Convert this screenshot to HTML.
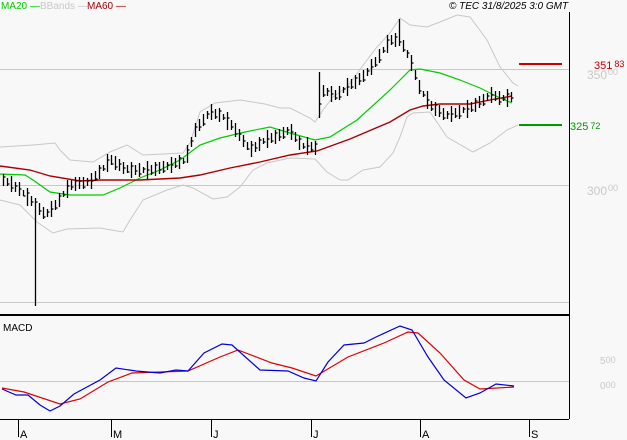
<!DOCTYPE html>
<html><head><meta charset="utf-8"><style>
html,body{margin:0;padding:0;background:#f8f8f8;}
svg{display:block;font-family:"Liberation Sans",sans-serif;}
</style></head><body>
<svg width="627" height="440" viewBox="0 0 627 440" xmlns="http://www.w3.org/2000/svg">
<rect width="627" height="440" fill="#f8f8f8"/>
<g stroke="#c8c8c8" stroke-width="1">
<line x1="0" y1="69.5" x2="569" y2="69.5"/>
<line x1="0" y1="185.5" x2="569" y2="185.5"/>
<line x1="0" y1="302.5" x2="569" y2="302.5"/>
<line x1="0" y1="381.5" x2="569" y2="381.5"/>
</g>
<g fill="none" stroke="#c8c8c8" stroke-width="1">
<polyline points="0,147 33,145 55,143 60,150 70,160 93,162 110,152 127,145 143,155 183,153 190,143 200,112 215,103 240,100 265,104 280,108 290,108 310,118 315,122 323,110 333,97 347,87 367,60 377,47 390,33 400,18 410,25 427,27 440,22 457,15 470,17 487,40 500,67 513,83 518,86"/>
<polyline points="0,200 20,205 37,222 53,233 67,229 100,228 123,232 130,220 143,200 167,190 183,185 193,188 213,199 227,197 240,187 253,170 267,163 290,158 315,159 327,172 340,180 348,180 363,170 380,167 393,153 400,137 407,117 413,113 430,112 447,137 473,152 490,143 507,130 518,125"/>
</g>
<polyline fill="none" stroke="#00cc00" stroke-width="1.2" points="0,174 25,175 33,180 50,192 70,195 103,195 120,188 140,178 160,170 180,160 200,145 220,138 245,132 270,127 290,133 315,140 330,137 357,120 390,90 400,80 410,70 420,69 440,73 460,80 480,88 500,98 512,103"/>
<polyline fill="none" stroke="#aa0000" stroke-width="1.4" points="0,166 30,170 50,176 80,181 100,180 140,180 180,178 200,175 230,168 260,162 290,155 317,151 350,139 390,122 410,110 423,106 440,104 470,104 490,100 512,96"/>
<path fill="none" stroke="#000" stroke-width="1.3" d="
M3.5 174V186M3.5 177h2 M7.5 178V186M7.5 184h2 M11.5 176V192M11.5 188h2 M15.5 182V192M15.5 186h2 M19.5 182V196M19.5 189h2 M23.5 190V196M23.5 196h2 M27.5 188V206M27.5 193h2 M31.5 196V206M31.5 202h2 M35.5 198V306M35.5 202h2 M39.5 203V215M39.5 211h2
M43.5 207V219M43.5 217h2 M47.5 209V217M47.5 212h2 M51.5 201V217M51.5 209h2 M55.5 200V210M55.5 208h2 M59.5 193V207M59.5 196h2 M63.5 191V197M63.5 195h2 M67.5 180V198M67.5 186h2 M71.5 180V190M71.5 187h2 M75.5 177V191M75.5 181h2 M79.5 177V189M79.5 181h2
M83.5 177V189M83.5 187h2 M87.5 178V186M87.5 181h2 M91.5 173V189M91.5 181h2 M95.5 171V181M95.5 179h2 M99.5 165V179M99.5 168h2 M103.5 165V171M103.5 169h2 M107.5 154V172M107.5 160h2 M111.5 155V165M111.5 164h2 M115.5 156V170M115.5 167h2 M119.5 159V171M119.5 164h2
M123.5 162V174M123.5 168h2 M127.5 165V173M127.5 172h2 M131.5 162V178M131.5 166h2 M135.5 165V175M135.5 171h2 M139.5 163V177M139.5 174h2 M143.5 167V173M143.5 169h2 M147.5 161V179M147.5 170h2 M151.5 165V175M151.5 173h2 M155.5 162V176M155.5 165h2 M159.5 162V174M159.5 170h2
M163.5 161V173M163.5 171h2 M167.5 162V170M167.5 165h2 M171.5 157V173M171.5 165h2 M175.5 158V168M175.5 166h2 M179.5 155V169M179.5 158h2 M183.5 158V164M183.5 162h2 M187.5 145V163M187.5 150h2 M191.5 137V147M191.5 141h2 M195.5 123V137M195.5 127h2 M199.5 119V131M199.5 127h2
M203.5 114V126M203.5 124h2 M207.5 111V119M207.5 114h2 M211.5 104V120M211.5 112h2 M215.5 109V119M215.5 117h2 M219.5 108V122M219.5 111h2 M223.5 114V120M223.5 118h2 M227.5 112V130M227.5 118h2 M231.5 120V130M231.5 127h2 M235.5 123V137M235.5 134h2 M239.5 129V141M239.5 134h2
M243.5 135V147M243.5 141h2 M247.5 142V150M247.5 149h2 M251.5 141V157M251.5 145h2 M255.5 142V152M255.5 148h2 M259.5 137V151M259.5 140h2 M263.5 138V144M263.5 142h2 M267.5 130V148M267.5 139h2 M271.5 133V143M271.5 141h2 M275.5 130V144M275.5 133h2 M279.5 129V141M279.5 137h2
M283.5 127V139M283.5 137h2 M287.5 127V135M287.5 130h2 M291.5 124V140M291.5 132h2 M295.5 132V142M295.5 140h2 M299.5 136V150M299.5 139h2 M303.5 143V149M303.5 147h2 M307.5 137V155M307.5 146h2 M311.5 142V152M311.5 150h2 M315.5 141V155M315.5 144h2 M319.5 72V118M319.5 104h2
M323.5 85V97M323.5 95h2 M327.5 88V96M327.5 91h2 M331.5 86V102M331.5 94h2 M335.5 90V100M335.5 98h2 M339.5 86V100M339.5 97h2 M343.5 87V93M343.5 89h2 M347.5 78V96M347.5 87h2 M351.5 79V89M351.5 87h2 M355.5 75V89M355.5 78h2 M359.5 73V85M359.5 81h2
M363.5 70V82M363.5 80h2 M367.5 68V76M367.5 71h2 M371.5 59V75M371.5 67h2 M375.5 57V67M375.5 65h2 M379.5 49V63M379.5 60h2 M383.5 47V53M383.5 51h2 M387.5 35V53M387.5 40h2 M391.5 35V45M391.5 43h2 M395.5 33V47M395.5 37h2 M399.5 19V46M399.5 42h2
M403.5 40V52M403.5 50h2 M407.5 50V58M407.5 53h2 M411.5 55V71M411.5 63h2 M415.5 70V80M415.5 78h2 M419.5 80V94M419.5 91h2 M423.5 91V97M423.5 95h2 M427.5 91V109M427.5 100h2 M431.5 101V111M431.5 109h2 M435.5 102V116M435.5 105h2 M439.5 105V117M439.5 113h2
M443.5 108V120M443.5 118h2 M447.5 111V119M447.5 114h2 M451.5 106V122M451.5 114h2 M455.5 108V118M455.5 116h2 M459.5 105V119M459.5 116h2 M463.5 107V113M463.5 109h2 M467.5 100V118M467.5 109h2 M471.5 102V112M471.5 110h2 M475.5 98V112M475.5 101h2 M479.5 96V108M479.5 104h2
M483.5 94V106M483.5 104h2 M487.5 93V101M487.5 96h2 M491.5 87V103M491.5 95h2 M495.5 91V101M495.5 99h2 M499.5 91V105M499.5 102h2 M503.5 95V101M503.5 99h2 M507.5 89V107M507.5 94h2 M511.5 92V102M511.5 98h2"/>
<line x1="569.5" y1="12" x2="569.5" y2="419" stroke="#000" stroke-width="1"/>
<line x1="0" y1="315" x2="569" y2="315" stroke="#000" stroke-width="2"/>
<line x1="0" y1="419.5" x2="569" y2="419.5" stroke="#000" stroke-width="1"/>
<line x1="519" y1="64" x2="562" y2="64" stroke="#cc0000" stroke-width="2"/>
<line x1="519" y1="125" x2="562" y2="125" stroke="#009900" stroke-width="2"/>
<text x="587" y="79" font-size="12" fill="#c8c8c8">350<tspan font-size="9" dx="1" dy="-4">00</tspan></text>
<text x="594" y="69" font-size="11" fill="#cc0000">351<tspan font-size="9" dx="2" dy="-2">83</tspan></text>
<text x="570" y="130" font-size="11" fill="#009900">325<tspan font-size="9" dx="2" dy="-1">72</tspan></text>
<text x="587" y="195" font-size="12" fill="#c8c8c8">300<tspan font-size="9" dx="1" dy="-4">00</tspan></text>
<text x="600" y="364" font-size="10" fill="#c8c8c8">5<tspan font-size="9" dy="-1">00</tspan></text>
<text x="600" y="389" font-size="10" fill="#c8c8c8">0<tspan font-size="9" dy="-1">00</tspan></text>
<polyline fill="none" stroke="#dd0000" stroke-width="1.2" points="2,388 24,392 60,404 80,399 108,382 132,373 188,371 220,357 238,350 272,363 292,368 316,376 348,357 384,343 408,332 418,333 440,353 464,380 480,389 514,387"/>
<polyline fill="none" stroke="#0000dd" stroke-width="1.2" points="2,389 16,395 28,395 40,405 50,411 60,406 74,394 100,380 116,368 136,371 160,373 176,370 188,371 204,353 222,344 232,345 260,370 288,371 304,378 316,381 328,362 344,345 364,343 376,337 400,326 412,330 428,357 444,380 466,398 480,393 496,384 514,386"/>
<text x="3" y="331" font-size="10" fill="#000">MACD</text>
<g stroke="#000" stroke-width="1">
<line x1="18.5" y1="420" x2="18.5" y2="437"/>
<line x1="111.5" y1="420" x2="111.5" y2="437"/>
<line x1="211.5" y1="420" x2="211.5" y2="437"/>
<line x1="311.5" y1="420" x2="311.5" y2="437"/>
<line x1="420.5" y1="420" x2="420.5" y2="437"/>
<line x1="529.5" y1="420" x2="529.5" y2="437"/>
</g>
<g font-size="11" fill="#000">
<text x="20" y="438">A</text><text x="113" y="438">M</text><text x="213" y="438">J</text>
<text x="313" y="438">J</text><text x="422" y="438">A</text><text x="531" y="438">S</text>
</g>
<text x="1" y="9" font-size="10" fill="#00cc00">MA20 —</text>
<text x="40" y="9" font-size="10" fill="#c8c8c8">BBands —</text>
<text x="87" y="9" font-size="10" fill="#aa0000">MA60 —</text>
<text x="449" y="9" font-size="10" font-style="italic" fill="#000">© TEC 31/8/2025 3:0 GMT</text>
</svg>
</body></html>
